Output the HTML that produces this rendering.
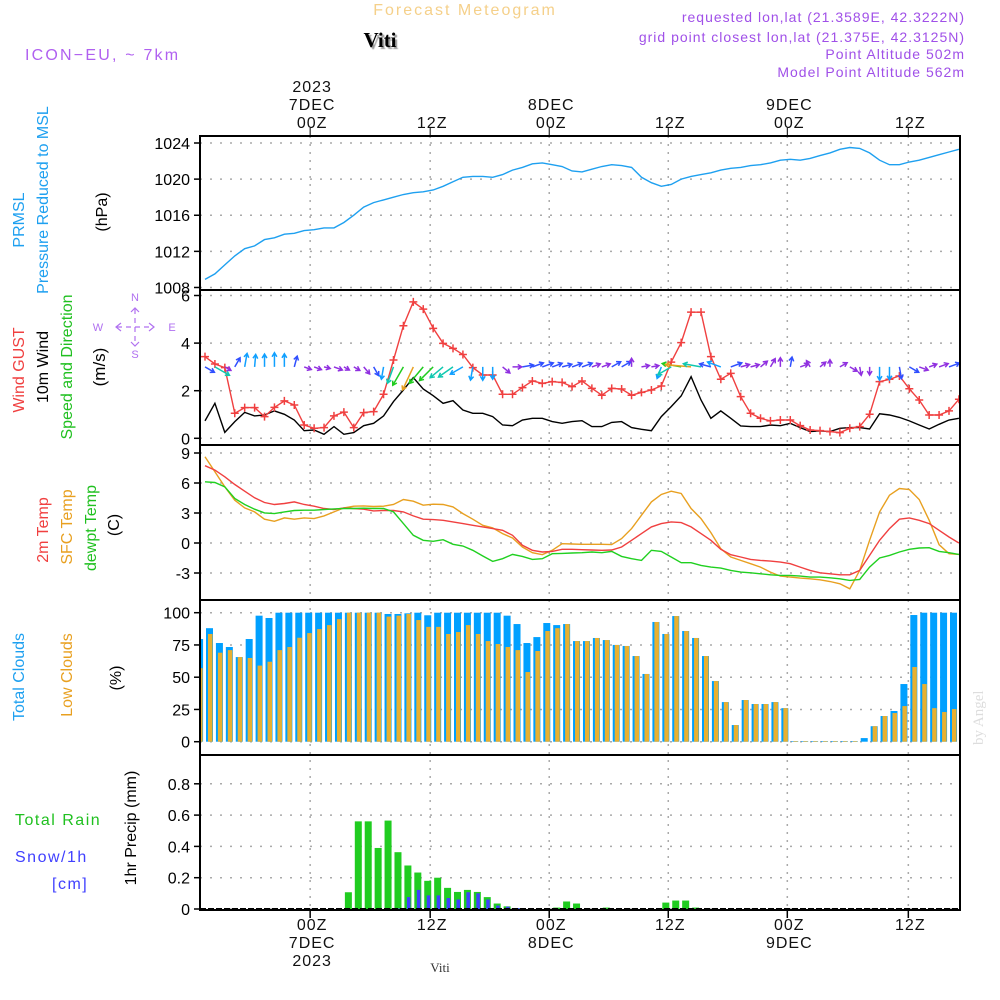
<!DOCTYPE html>
<html><head><meta charset="utf-8">
<style>
html,body{margin:0;padding:0;background:#fff;}
svg{display:block;font-family:"Liberation Sans",sans-serif;}
</style></head>
<body>
<svg id="chart" width="1000" height="1000" viewBox="0 0 1000 1000" xmlns="http://www.w3.org/2000/svg">
<rect x="0" y="0" width="1000" height="1000" fill="#fff"/>
<text x="465" y="15" font-size="16" fill="#f5d08a" text-anchor="middle" letter-spacing="2">Forecast Meteogram</text>
<text x="380" y="47" font-size="21" font-weight="bold" font-family="Liberation Serif, serif" fill="#000" text-anchor="middle" style="text-shadow:2px 2px 1px #999">Viti</text>
<text x="25" y="60" font-size="16" fill="#b060f0" letter-spacing="2.2">ICON−EU,  ~  7km</text>
<g font-size="14" fill="#a050e8" text-anchor="end" letter-spacing="1">
<text x="965" y="22">requested lon,lat (21.3589E, 42.3222N)</text>
<text x="965" y="42">grid point closest lon,lat (21.375E, 42.3125N)</text>
<text x="965" y="59">Point Altitude 502m</text>
<text x="965" y="77">Model Point Altitude 562m</text>
</g>
<text x="0" y="0" font-size="15" font-family="Liberation Serif, serif" fill="#ddd" transform="translate(983,745) rotate(-90)">by Angel</text>
<text x="440" y="972" font-size="13" font-family="Liberation Serif, serif" fill="#333" text-anchor="middle">Viti</text>
<g id="grid"></g>
<g id="marks"></g>
<g id="frames"></g>
<g id="labels"></g>
<g stroke="#b070f0" stroke-width="1.2" fill="none">
<line x1="117" y1="327" x2="153" y2="327" stroke-dasharray="5,4"/>
<line x1="135" y1="309" x2="135" y2="345" stroke-dasharray="5,4"/>
<path d="M121,323L116,327L121,331"/>
<path d="M149,323L154,327L149,331"/>
<path d="M131,312L135,308L139,312"/>
<path d="M131,342L135,346L139,342"/>
</g>
<g font-size="11" fill="#b070f0" text-anchor="middle">
<text x="135" y="301">N</text>
<text x="135" y="358">S</text>
<text x="98" y="331">W</text>
<text x="172" y="331">E</text>
</g>
</svg>
<script>
// ---- data (hourly, index t = 0..76) ----
const pressure = [1008.9,1009.5,1010.5,1011.5,1012.3,1012.6,1013.3,1013.5,1013.9,1014.0,
1014.3,1014.4,1014.6,1014.6,1015.2,1016,1016.9,1017.4,1017.7,1018,
1018.3,1018.5,1018.6,1018.8,1019.2,1019.7,1020.2,1020.3,1020.3,1020.2,
1020.5,1021,1021.3,1021.7,1021.8,1021.6,1021.4,1020.9,1020.8,1021.1,
1021.4,1021.6,1021.5,1021.3,1020.2,1019.6,1019.2,1019.4,1020,1020.3,
1020.5,1020.7,1021,1021.2,1021.3,1021.5,1021.6,1021.8,1022.1,1022.2,
1022.1,1022.3,1022.6,1022.9,1023.3,1023.5,1023.4,1022.9,1022.1,1021.6,
1021.6,1021.9,1022.1,1022.4,1022.7,1023.0,1023.3];
const windGust = [3.43,3.12,2.97,1.05,1.29,1.29,0.91,1.3,1.57,1.4,0.56,0.42,0.45,0.94,1.1,0.45,1.08,1.12,1.85,3.29,
4.73,5.73,5.43,4.62,3.99,3.78,3.52,2.97,2.66,2.66,1.85,1.85,2.13,2.41,2.31,2.38,2.35,2.17,2.41,2.10,
1.81,2.1,2.07,1.81,1.93,2.03,2.2,3.2,4.02,5.3,5.3,3.43,2.48,2.73,1.75,1.05,0.84,0.73,0.77,0.77,
0.53,0.35,0.32,0.28,0.24,0.42,0.49,1.01,2.38,2.48,2.62,2.08,1.61,0.98,0.98,1.15,1.64];
const windMean = [0.73,1.47,0.25,0.7,1.09,0.94,0.98,1.15,1.01,0.77,0.32,0.35,0.17,0.49,0.17,0.24,0.53,0.63,0.94,1.54,
2.03,2.55,2.07,1.79,1.47,1.58,1.19,1.05,1.05,0.91,0.56,0.53,0.77,0.84,0.84,0.7,0.63,0.7,0.74,0.49,
0.49,0.67,0.7,0.45,0.38,0.32,0.91,1.33,1.78,2.59,1.61,0.84,1.15,0.84,0.52,0.49,0.49,0.56,0.53,0.63,
0.45,0.28,0.31,0.28,0.42,0.45,0.45,0.39,1.03,0.98,0.88,0.73,0.56,0.39,0.59,0.77,0.84];
const windDir = [-30,-30,-30,60,80,85,90,90,90,75,-20,-20,-15,-20,-30,-30,-50,-60,-100,-110,
-120,-115,-130,-135,-140,-145,-150,-100,-90,-90,-40,0,10,20,20,20,15,20,20,20,
20,30,30,90,10,10,-110,-150,170,175,170,165,160,20,15,15,40,60,90,80,
20,120,40,90,30,-30,-80,-90,-90,-90,-80,-30,-20,20,20,20,20];
const temp2m = [7.73,7.29,6.62,5.85,5.18,4.52,4.05,3.85,3.95,4.11,3.85,3.68,3.45,3.35,3.51,3.45,3.38,3.21,3.25,3.25,
3.11,2.71,2.38,2.34,2.27,2.11,1.94,1.77,1.61,1.44,1.27,0.77,-0.23,-0.73,-0.9,-0.84,-0.63,-0.63,-0.67,-0.7,
-0.73,-0.7,-0.4,0.27,0.94,1.61,1.94,2.11,2.04,1.61,0.94,0.27,-0.63,-1.17,-1.4,-1.64,-1.74,-1.81,-1.91,-2.07,
-2.41,-2.74,-2.98,-3.08,-3.18,-3.18,-2.74,-1.24,0.27,1.44,2.38,2.51,2.27,1.94,1.27,0.6,0.0];
const tempSfc = [8.63,7.12,5.62,4.28,3.51,3.11,2.38,2.17,2.51,2.38,2.51,2.44,2.71,3.11,3.51,3.68,3.71,3.65,3.68,3.85,
4.35,4.18,3.78,3.88,3.85,3.61,2.94,2.38,1.77,1.51,0.94,0.5,-0.4,-0.97,-1.17,-0.73,-0.07,-0.1,-0.13,-0.13,
-0.13,-0.16,0.44,1.44,2.78,4.11,4.85,5.18,4.95,3.45,2.44,1.04,-0.57,-1.4,-1.74,-2.07,-2.41,-2.91,-3.31,-3.41,
-3.51,-3.58,-3.68,-3.85,-4.08,-4.58,-2.74,0.27,3.11,4.78,5.45,5.35,4.35,2.27,-0.17,-1.07,-1.14];
const tempDew = [6.12,6.05,5.62,4.45,3.85,3.38,3.01,2.94,3.11,3.25,3.28,3.28,3.35,3.41,3.45,3.45,3.48,3.45,3.45,3.11,
1.94,0.77,0.27,0.17,0.33,-0.13,-0.3,-0.73,-1.3,-1.84,-1.57,-1.14,-1.34,-1.64,-1.57,-1.07,-1.04,-1.0,-0.97,-0.9,
-0.97,-0.84,-1.34,-1.57,-1.74,-0.73,-0.84,-1.4,-1.97,-1.97,-2.24,-2.41,-2.51,-2.74,-2.91,-2.98,-3.08,-3.18,-3.24,-3.24,
-3.31,-3.41,-3.41,-3.48,-3.58,-3.74,-3.64,-2.41,-1.5,-1.24,-0.9,-0.63,-0.5,-0.47,-0.84,-0.97,-1.14];
// bars: index i = t+1 (t = -1..75)
const cloudTotal = [79.6,88,76.5,73.4,65.6,79.6,97.7,95.9,100,100,100,100,100,100,100,100,100,100,100,99,
99,99.5,100,98,100,100,100,100,100,100,100,97.7,91.2,76.5,81.1,92,90.4,91.2,78,78,
80.4,78.8,75,74.2,66.4,52.5,92.8,83.5,97.4,85.8,80.4,66.4,47,30.7,12.9,32.3,29.2,29.2,30.7,26,
0.5,0.5,0.5,0.5,0.5,0.5,0.5,2.8,12,19.9,23.8,44.7,98.2,100,100,100,100];
const cloudLow = [57,83.5,69,71,65.6,64.9,59,62,71,73.4,80.6,84.2,87.3,90.4,95,100,100,100,100,97,
97.7,99,94.3,89,89,83.5,85,90.4,83.5,78,75.7,73.4,71,54,70.3,85.8,88,91.2,78,78,
80.4,78.8,75,74.2,66.4,52.5,92.8,83.5,97.4,85.8,80.4,66.4,47,30.7,12.9,32.3,29.2,29.2,30.7,26,
0.5,0.5,0.5,0.5,0.5,0.5,0.5,0,12,19.9,22.2,27.6,57.9,44.7,26,23,25.3];
const rainTotal = [0,0,0,0,0,0,0,0,0,0,0,0,0,0,0,0.107,0.56,0.56,0.39,0.565,
0.363,0.278,0.233,0.18,0.2,0.135,0.109,0.122,0.109,0.076,0.035,0.017,0.004,0,0,0,0.009,0.048,0.035,0,
0,0.009,0,0,0,0,0,0.041,0.054,0.054,0.009,0,0,0,0,0,0,0,0,0,
0,0,0,0,0,0,0,0,0,0,0,0,0,0,0,0,0];
const snowFall = [0,0,0,0,0,0,0,0,0,0,0,0,0,0,0,0,0,0,0,0,
0.003,0.076,0.122,0.087,0.087,0.07,0.061,0.107,0.1,0.061,0.022,0.015,0.006,0,0,0,0,0,0,0,
0,0,0,0,0,0,0,0,0,0,0,0,0,0,0,0,0,0,0,0,
0,0,0,0,0,0,0,0,0,0,0,0,0,0,0,0,0];
const timeTicks = [10.6,22.7,34.7,46.7,58.7,70.9];
const topTickLabels = [["2023","7DEC","00Z"],["","","12Z"],["","8DEC","00Z"],["","","12Z"],["","9DEC","00Z"],["","","12Z"]];
const bottomTickLabels = [["00Z","7DEC","2023"],["12Z","",""],["00Z","8DEC",""],["12Z","",""],["00Z","9DEC",""],["12Z","",""]];
const pressureTicks = [1008,1012,1016,1020,1024];
const windTicks = [0,2,4,6];
const tempTicks = [-3,0,3,6,9];
const cloudTicks = [0,25,50,75,100];
const precipTicks = [0,0.2,0.4,0.6,0.8];

// ---- scales ----
const NS = "http://www.w3.org/2000/svg";
const X0 = 200, X1 = 960;
const x = t => 205 + t * 9.92;
const yP = p => 143 + (1024 - p) * 9.03;
const yW = v => 438.3 - v * 23.8;
const yT = v => 543 - v * 10;
const yC = c => 741.7 - c * 1.29;
const yR = v => 909 - v * 156.5;
const panels = [[136,290],[290,445],[445,600],[600,755],[755,910]];

function mk(tag, attrs, parent) {
  const e = document.createElementNS(NS, tag);
  for (const k in attrs) e.setAttribute(k, attrs[k]);
  parent.appendChild(e);
  return e;
}
const grid = document.getElementById('grid');
const marks = document.getElementById('marks');
const frames = document.getElementById('frames');
const labels = document.getElementById('labels');

const defs = mk('defs', {}, document.getElementById('chart'));
const cp = mk('clipPath', {id:'plotclip'}, defs);
mk('rect', {x:X0, y:136, width:X1-X0, height:774}, cp);
marks.setAttribute('clip-path', 'url(#plotclip)');

timeTicks.forEach((t, i) => {
  const l = mk('line', {x1:x(t), x2:x(t), y1:136, y2:910, stroke:'#aaa', 'stroke-width':1.5, 'stroke-dasharray':'2,6'}, grid);
  
  
  const tk = mk('line', {x1:x(t), x2:x(t), y1:128, y2:136, stroke:'#000', 'stroke-width':1}, grid);
  
  
  const tb = mk('line', {x1:x(t), x2:x(t), y1:910, y2:918, stroke:'#000', 'stroke-width':1.5}, grid);
  
  
  topTickLabels[i].forEach((s, j) => {
    if (!s) return;
    const tx = mk('text', {x:x(t)+2, y:92 + j*18, 'font-size':16, 'text-anchor':'middle', fill:'#111', 'letter-spacing':1}, labels);
    tx.textContent = s;
    
    
  });
  bottomTickLabels[i].forEach((s, j) => {
    if (!s) return;
    const tx = mk('text', {x:x(t)+2, y:930 + j*18, 'font-size':16, 'text-anchor':'middle', fill:'#111', 'letter-spacing':1}, labels);
    tx.textContent = s;
    
    
  });
});

function yAxis(ticks, yf, fmt, name) {
  ticks.forEach(v => {
    const g = mk('line', {x1:X0, x2:X1, y1:yf(v), y2:yf(v), stroke:'#aaa', 'stroke-width':1.5, 'stroke-dasharray':'2,8'}, grid);
    
    
    const tk = mk('line', {x1:X0-6, x2:X0, y1:yf(v), y2:yf(v), stroke:'#000', 'stroke-width':1.5}, grid);
    
    
    const t = mk('text', {x:X0-10, y:yf(v)+6, 'font-size':16, 'text-anchor':'end', fill:'#000'}, labels);
    t.textContent = fmt(v);
    
    
  });
}
yAxis(pressureTicks, yP, v => String(v), 'pressure-axis');
yAxis(windTicks, yW, v => String(v), 'wind-axis');
yAxis(tempTicks, yT, v => String(v), 'temp-axis');
yAxis(cloudTicks, yC, v => String(v), 'cloud-axis');
yAxis(precipTicks, yR, v => v === 0 ? '0' : v.toFixed(1), 'precip-axis');

function line(data, yf, color, name, w) {
  const pts = data.map((v, t) => x(t).toFixed(1) + ',' + yf(v).toFixed(1)).join(' ');
  const p = mk('polyline', {points:pts, fill:'none', stroke:color, 'stroke-width':w || 1.4}, marks);
  
  
}
line(pressure, yP, '#1ea0f0', 'pressure-line');
line(windMean, yW, '#000', 'mean-wind-line');
line(windGust, yW, '#f04040', 'wind-gust-line');
windGust.forEach((v, t) => {
  const cx = x(t), cy = yW(v);
  const g = mk('path', {d:`M${cx-4},${cy}H${cx+4}M${cx},${cy-4}V${cy+4}`, stroke:'#f04040', 'stroke-width':1.5}, marks);
  
  
});
function windColor(s) {
  if (s < 0.6) return '#9030e0';
  if (s < 0.9) return '#3050ff';
  if (s < 1.3) return '#10a0ff';
  if (s < 1.7) return '#10c8b0';
  if (s < 2.1) return '#20cc20';
  if (s < 2.4) return '#90d820';
  return '#e8a020';
}
windDir.forEach((d, t) => {
  const s = windMean[t];
  const len = 5 + s * 8;
  const a = d * Math.PI / 180;
  const x1 = x(t), y1 = yW(3);
  const x2 = x1 + Math.cos(a) * len, y2 = y1 - Math.sin(a) * len;
  const hx = Math.cos(a), hy = -Math.sin(a);
  const h = 4;
  const c = windColor(s);
  const p = mk('path', {d:`M${x1},${y1}L${x2},${y2}M${x2 - h*hx - h*0.6*hy},${y2 - h*hy + h*0.6*hx}L${x2},${y2}L${x2 - h*hx + h*0.6*hy},${y2 - h*hy - h*0.6*hx}`, stroke:c, 'stroke-width':1.5, fill:'none'}, marks);
  
  
});
line(tempSfc, yT, '#e8a020', 'sfc-temp-line');
line(temp2m, yT, '#f04040', 'temp-2m-line');
line(tempDew, yT, '#20d020', 'dewpoint-line');

cloudTotal.forEach((v, i) => {
  const t = i - 1, bx = x(t) + 1;
  const b = mk('rect', {x:bx, y:yC(v), width:7, height:yC(0)-yC(v), fill:'#00a0ff'}, marks);
  
  
  const lv = cloudLow[i];
  const o = mk('rect', {x:bx+2, y:yC(lv), width:4.5, height:yC(0)-yC(lv), fill:'#e8b030'}, marks);
  
  
});
rainTotal.forEach((v, i) => {
  const t = i - 1, bx = x(t) + 1;
  if (v > 0) {
    const b = mk('rect', {x:bx, y:yR(v), width:7, height:yR(0)-yR(v), fill:'#20cc20'}, marks);
    
    
  }
  const s = snowFall[i];
  if (s > 0) {
    const sb = mk('rect', {x:bx+2.5, y:yR(s), width:3.5, height:yR(0)-yR(s), fill:'#4040ff'}, marks);
    
    
  }
});
const base = mk('line', {x1:X0, x2:X1, y1:yR(0), y2:yR(0), stroke:'#000', 'stroke-width':2, 'stroke-dasharray':'6,2'}, marks);



panels.forEach(([a, b]) => {
  const r = mk('rect', {x:X0, y:a, width:X1-X0, height:b-a, fill:'none', stroke:'#000', 'stroke-width':2}, frames);
  
  
});

function vlabel(text, bx, cy, color, size) {
  const t = mk('text', {x:0, y:0, 'font-size':size || 16, fill:color, 'text-anchor':'middle', transform:`translate(${bx},${cy}) rotate(-90)`}, labels);
  t.textContent = text;
  
  
}
vlabel('PRMSL', 24, 220, '#1ea0f0');
vlabel('Pressure Reduced to MSL', 48, 200, '#1ea0f0');
vlabel('(hPa)', 107, 212, '#000');
vlabel('Wind GUST', 24, 370, '#f04040');
vlabel('10m Wind', 48, 367, '#000');
vlabel('Speed and Direction', 72, 367, '#20c020');
vlabel('(m/s)', 105, 367, '#000', 17);
vlabel('2m Temp', 48, 530, '#f04040');
vlabel('SFC Temp', 72, 527, '#e8a020');
vlabel('dewpt Temp', 96, 528, '#20c020');
vlabel('(C)', 119, 525, '#000');
vlabel('Total Clouds', 24, 677, '#1ea0f0');
vlabel('Low Clouds', 72, 675, '#e8a020');
vlabel('(%)', 121, 678, '#000');
vlabel('1hr Precip (mm)', 136, 828, '#000');

const pl = [['Total  Rain', 15, 825, '#20c020'], ['Snow/1h', 15, 862, '#4040ff'], ['[cm]', 52, 889, '#4040ff']];
pl.forEach(([s, lx, ly, c]) => {
  const t = mk('text', {x:lx, y:ly, 'font-size':16, fill:c, 'letter-spacing':1.5, 'xml:space':'preserve'}, labels);
  t.textContent = s;
  
  
});
</script>
</body></html>
